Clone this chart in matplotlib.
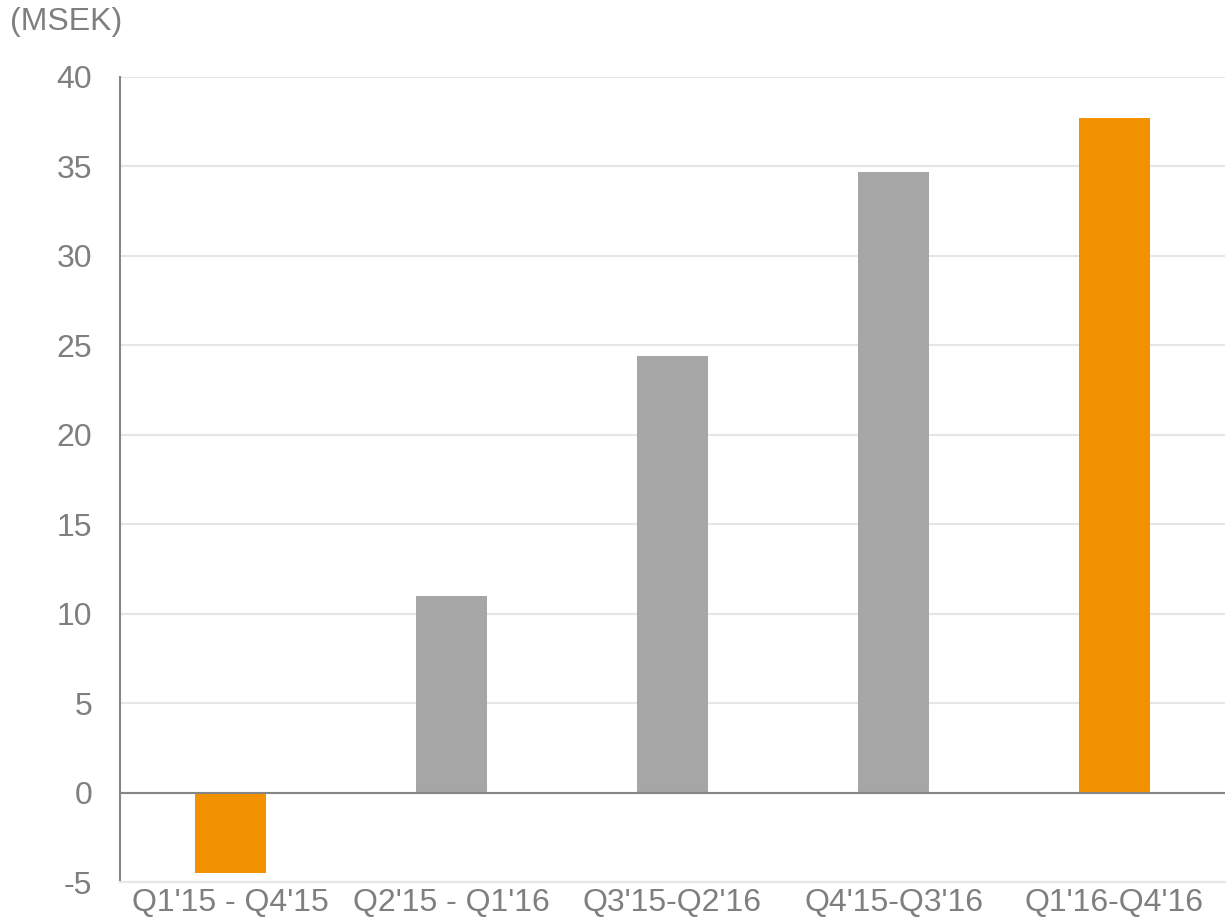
import matplotlib.pyplot as plt
import numpy as np

categories = ["Q1'15 - Q4'15", "Q2'15 - Q1'16", "Q3'15-Q2'16", "Q4'15-Q3'16", "Q1'16-Q4'16"]
values = [-4.5, 11.0, 24.4, 34.7, 37.7]
highlight = [True, False, False, False, True]

orange = "#F29200"
gray = "#A6A6A6"
text_col = "#7F7F7F"

plt.rcParams['font.family'] = ['Liberation Sans', 'DejaVu Sans']
plt.rcParams['axes.unicode_minus'] = False

fig = plt.figure(figsize=(12.31, 9.23), dpi=100)
ax = fig.add_axes([120 / 1231, 1 - 882 / 923, 1105 / 1231, 805 / 923])

x = np.arange(len(categories))
colors = [orange if h else gray for h in highlight]
ax.bar(x, values, width=0.317, color=colors, zorder=3)

ax.set_xlim(-0.5, len(categories) - 0.5)
ax.set_ylim(-5, 40)
ax.set_yticks(np.arange(-5, 41, 5))
ax.set_xticks(x)
ax.set_xticklabels(categories)

ax.grid(axis='y', color='#E6E6E6', linewidth=1.5, zorder=0)
ax.axhline(0, color='#868686', linewidth=1.5, zorder=4)

for s in ['top', 'right']:
    ax.spines[s].set_visible(False)
ax.spines['bottom'].set_color('#E6E6E6')
ax.spines['bottom'].set_linewidth(1.5)
ax.spines['left'].set_color('#868686')
ax.spines['left'].set_linewidth(1.5)

ax.tick_params(axis='both', length=0, labelsize=23, labelcolor=text_col)
ax.tick_params(axis='y', pad=20)
ax.tick_params(axis='x', pad=4)

fig.text(10 / 1231, 1 - 22 / 923, "(MSEK)", fontsize=23, color=text_col, va='center', ha='left')

fig.savefig("out.png", dpi=100)
